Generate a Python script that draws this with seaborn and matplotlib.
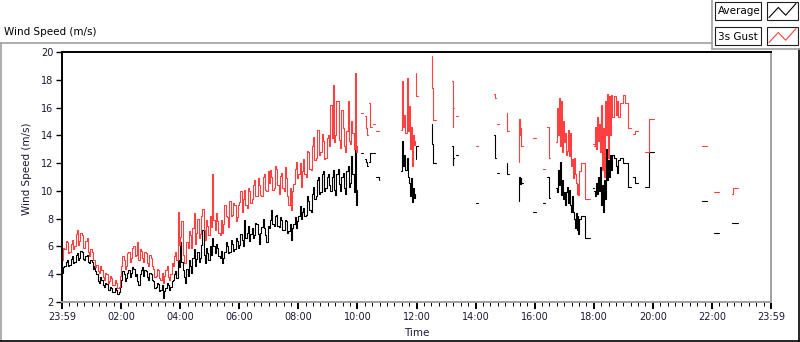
import numpy as np
import pandas as pd
import matplotlib
matplotlib.use("Agg")
import matplotlib.pyplot as plt
import seaborn as sns
from matplotlib.patches import Rectangle

# DATA
# continuous record, one value every 2.5 minutes from 00:00 to 10:00
cont_avg = [
    4.1, 4.5, 4.6, 4.9, 5.0, 4.6, 4.7, 5.1, 5.3, 4.8, 4.9, 5.4, 5.5, 5.0, 5.2, 5.7, 5.6, 5.1, 5.0, 5.3, 5.4, 4.9, 4.8, 5.0,
    4.9, 4.4, 4.6, 4.2, 4.0, 3.5, 3.4, 3.8, 3.6, 3.2, 3.1, 3.4, 3.3, 2.9, 2.9, 3.1, 3.0, 2.7, 2.7, 3.0, 2.9, 2.6, 2.7, 3.1,
    3.6, 4.2, 4.0, 3.5, 3.7, 4.1, 4.3, 3.8, 4.1, 4.5, 4.4, 3.9, 4.0, 3.5, 3.2, 4.0, 4.3, 4.5, 3.9, 4.3, 4.2, 3.8, 3.6, 4.1,
    4.0, 3.6, 3.5, 3.0, 3.1, 3.4, 3.3, 2.8, 2.9, 3.2, 2.3, 2.8, 3.0, 3.4, 3.2, 2.9, 3.1, 3.5, 3.6, 4.0, 4.2, 3.7, 5.0, 4.5,
    6.3, 4.9, 4.3, 3.8, 3.4, 4.4, 3.9, 5.0, 4.6, 4.1, 5.2, 5.8, 4.6, 5.1, 5.6, 4.9, 5.2, 6.1, 7.2, 5.4, 4.8, 5.9, 5.5, 5.0,
    6.0, 5.4, 6.6, 6.0, 5.5, 6.2, 5.9, 5.3, 5.2, 5.7, 4.8, 5.2, 5.6, 6.3, 6.0, 5.5, 5.6, 6.5, 6.2, 5.7, 5.8, 6.6, 6.4, 5.9,
    6.1, 6.9, 6.5, 6.0, 7.9, 6.6, 7.0, 7.5, 6.4, 6.9, 7.3, 6.6, 6.8, 7.7, 7.6, 6.9, 6.2, 7.0, 7.4, 8.0, 7.3, 6.8, 6.3, 7.5,
    7.3, 7.9, 8.6, 7.6, 7.5, 8.2, 8.3, 7.5, 7.4, 8.1, 7.9, 7.2, 7.2, 7.9, 7.8, 7.0, 7.1, 7.6, 6.5, 7.3, 7.6, 8.1, 7.3, 7.8,
    8.2, 8.9, 8.0, 8.5, 8.8, 8.2, 8.3, 9.6, 9.3, 8.6, 8.5, 9.8, 10.3, 9.4, 9.6, 10.8, 11.0, 9.8, 9.9, 11.2, 11.4, 10.0, 10.2, 11.0,
    11.2, 10.4, 10.0, 11.0, 11.5, 10.1, 9.7, 11.2, 11.6, 10.5, 10.0, 11.0, 11.3, 10.2, 9.8, 11.4, 11.8, 10.3, 10.6, 12.5, 11.2, 9.9, 14.0, 9.0,
    10.1,
]
cont_gust = [
    5.0, 5.9, 5.8, 6.4, 6.3, 5.5, 5.6, 6.2, 6.5, 5.8, 6.0, 6.9, 7.2, 6.1, 6.4, 7.0, 6.8, 5.9, 5.9, 6.4, 6.6, 5.6, 5.3, 5.8,
    5.6, 5.0, 5.0, 4.5, 4.7, 4.2, 4.1, 4.6, 4.3, 3.8, 3.6, 4.1, 4.0, 3.4, 3.5, 3.9, 3.7, 3.2, 3.2, 3.6, 3.4, 3.0, 3.1, 3.9,
    4.6, 5.3, 5.0, 4.4, 4.6, 5.5, 5.6, 4.9, 5.2, 5.9, 6.0, 5.3, 5.4, 6.3, 5.0, 5.8, 5.7, 5.2, 4.9, 5.6, 5.5, 4.8, 4.6, 5.4,
    5.2, 4.6, 4.4, 3.8, 3.9, 4.4, 4.3, 3.7, 3.6, 4.1, 3.4, 3.9, 4.3, 4.6, 3.8, 3.6, 4.0, 4.8, 4.6, 5.3, 5.6, 5.0, 8.5, 6.1,
    6.7, 7.8, 5.4, 4.8, 4.8, 6.3, 5.9, 7.1, 6.8, 5.9, 7.3, 8.4, 6.2, 7.0, 8.0, 6.6, 6.9, 8.2, 8.7, 7.2, 6.5, 7.9, 7.5, 6.8,
    8.2, 7.4, 11.2, 7.9, 7.2, 8.4, 7.8, 7.0, 6.8, 7.9, 7.0, 7.6, 9.0, 8.2, 8.1, 7.4, 9.3, 8.2, 8.3, 9.1, 9.0, 7.8, 8.1, 9.0,
    9.2, 10.0, 8.5, 9.4, 10.1, 9.0, 8.8, 10.2, 10.0, 9.1, 9.4, 10.4, 10.8, 9.6, 9.6, 10.9, 10.4, 9.7, 9.6, 11.0, 11.2, 10.1, 10.0, 11.4,
    10.6, 11.5, 11.0, 10.1, 10.2, 11.8, 11.6, 10.4, 9.8, 11.1, 11.3, 10.2, 10.0, 11.7, 10.9, 9.6, 9.0, 10.2, 8.6, 10.0, 10.5, 11.6, 12.1, 10.9,
    11.2, 12.0, 10.3, 11.4, 12.3, 11.2, 11.0, 12.9, 12.8, 11.6, 11.5, 13.2, 13.9, 12.2, 12.4, 14.4, 14.4, 12.6, 12.8, 14.1, 13.6, 12.3, 12.4, 13.8,
    14.0, 13.2, 16.2, 13.8, 17.6, 13.5, 14.0, 16.5, 16.5, 13.7, 13.1, 15.8, 14.5, 13.2, 12.8, 14.3, 16.5, 13.6, 13.4, 15.0, 14.2, 13.0, 18.5, 12.8,
    13.2,
]

# patchy record after 10:00, None marks a gap in logging
sparse_time = [
    "10:07", "10:12", None,
    "10:15", "10:17", "10:19", "10:22", None,
    "10:23", "10:26", "10:30", None,
    "10:31", "10:36", None,
    "10:38", "10:44", None,
    "11:28", "11:30", "11:32", "11:34", "11:36", "11:40", "11:42", "11:44",
    "11:46", "11:48", "11:50", "11:52", "11:54", "11:56", None,
    "11:58", "11:59", "12:03", None,
    "12:31", "12:32", "12:34", "12:39", None,
    "13:13", "13:14", "13:15", "13:16", None,
    "13:21", "13:25", None,
    "14:00", "14:04", None,
    "14:38", "14:40", "14:41", None,
    "14:44", "14:47", None,
    "15:03", "15:04", "15:07", None,
    "15:28", "15:29", "15:30", "15:32", "15:33", "15:36", None,
    "15:56", "16:02", None,
    "16:16", "16:20", None,
    "16:26", "16:30", "16:31", None,
    "16:43", "16:45", "16:47", "16:49", "16:51", "16:53", "16:55", "16:57",
    "16:59", "17:01", "17:03", "17:05", "17:07", "17:09", "17:11", "17:13",
    "17:15", "17:17", "17:19", "17:21", "17:23", "17:25", "17:27", "17:29",
    "17:31", "17:34", "17:42", "17:52", None,
    "17:58", "18:00", None,
    "18:01", "18:03", "18:05", "18:07", "18:09", "18:11", "18:13", "18:15",
    "18:17", "18:19", "18:21", "18:23", "18:25", "18:27", "18:29", "18:31",
    "18:33", "18:35", "18:37", "18:41", "18:45", "18:47", "18:49", "18:53",
    "18:59", "19:03", "19:09", "19:16", None,
    "19:20", "19:23", "19:30", None,
    "19:45", "19:52", "20:02", None,
    "21:40", "21:50", None,
    "22:04", "22:14", None,
    "22:41", "22:42", "22:53", None,
    "23:58", "23:59",
]
sparse_avg = [
    12.7, 12.7, None,
    12.3, 12.1, 11.8, 11.8, None,
    12.1, 12.7, 12.7, None,
    12.7, 12.7, None,
    11.0, 10.8, None,
    11.4, 13.6, 11.8, 12.6, 11.5, 12.4, 11.0, 10.6,
    9.6, 10.9, 9.2, 10.2, 9.5, 9.8, None,
    12.3, 13.2, 13.2, None,
    14.8, 13.4, 12.0, 12.0, None,
    13.2, 11.9, 12.4, 12.4, None,
    12.6, 12.6, None,
    9.1, 9.1, None,
    14.0, 12.4, 12.4, None,
    11.3, 11.3, None,
    12.0, 11.2, 11.2, None,
    9.3, 11.0, 10.5, 10.9, 10.6, 10.6, None,
    8.5, 8.5, None,
    9.1, 9.1, None,
    11.0, 9.5, 9.5, None,
    10.2, 9.9, 11.5, 10.4, 12.1, 9.7, 10.8, 9.4,
    9.9, 9.0, 9.9, 10.3, 9.1, 10.1, 9.0, 8.5,
    9.6, 8.5, 8.0, 7.3, 8.4, 7.2, 8.2, 6.9,
    8.0, 8.2, 6.6, 6.6, None,
    10.2, 10.2, None,
    10.0, 9.6, 10.6, 9.8, 11.0, 10.0, 11.7, 9.0,
    10.4, 8.5, 10.8, 9.4, 13.0, 10.8, 12.2, 11.0,
    12.6, 11.5, 12.6, 12.4, 11.8, 11.3, 12.2, 12.4,
    12.0, 12.0, 10.3, 10.3, None,
    11.0, 10.6, 10.6, None,
    10.3, 12.8, 12.8, None,
    9.25, 9.25, None,
    7.0, 7.0, None,
    7.7, 7.7, 7.7, None,
    9.4, 6.2,
]
sparse_gust = [
    15.6, 15.6, None,
    15.4, 14.5, 14.0, 14.0, None,
    16.3, 14.6, 14.6, None,
    14.8, 14.8, None,
    14.3, 14.3, None,
    14.4, 17.9, 14.6, 15.5, 14.2, 18.1, 14.3, 16.1,
    13.0, 14.6, 11.8, 14.0, 13.3, 13.6, None,
    18.5, 16.8, 16.8, None,
    19.7, 17.4, 15.1, 15.1, None,
    17.9, 14.6, 16.0, 16.0, None,
    15.4, 15.4, None,
    13.2, 13.2, None,
    17.0, 16.7, 16.7, None,
    14.8, 14.8, None,
    15.6, 14.3, 14.3, None,
    12.1, 15.2, 14.0, 14.5, 13.2, 13.2, None,
    13.8, 13.8, None,
    11.6, 11.6, None,
    14.6, 12.4, 12.4, None,
    13.5, 16.0, 14.0, 16.7, 13.2, 16.5, 12.8, 15.0,
    13.5, 14.2, 12.6, 12.9, 14.4, 12.5, 14.2, 11.8,
    12.3, 10.9, 12.4, 11.2, 10.6, 9.8, 10.5, 9.7,
    11.4, 12.0, 9.4, 9.4, None,
    13.4, 13.4, None,
    13.2, 14.6, 13.0, 15.3, 13.6, 14.8, 12.8, 16.2,
    11.5, 14.5, 11.0, 16.5, 14.0, 17.0, 12.4, 16.8,
    14.0, 16.9, 15.3, 16.8, 15.5, 16.5, 15.3, 16.3,
    16.9, 16.3, 14.55, 14.55, None,
    14.1, 14.3, 14.3, None,
    12.8, 15.2, 15.2, None,
    13.2, 13.2, None,
    9.9, 9.9, None,
    9.8, 10.2, 10.2, None,
    12.4, 11.2,
]

tick_hours = list(range(0, 25, 2))
tick_labels = ["23:59", "02:00", "04:00", "06:00", "08:00", "10:00", "12:00",
               "14:00", "16:00", "18:00", "20:00", "22:00", "23:59"]


def to_hours(t):
    h, m = t.split(":")
    return int(h) + int(m) / 60


rows = [(i * 2.5 / 60, a, g, 0) for i, (a, g) in enumerate(zip(cont_avg, cont_gust))]
seg = 1
for t, a, g in zip(sparse_time, sparse_avg, sparse_gust):
    if t is None:
        seg += 1
        continue
    rows.append((to_hours(t), a, g, seg))
df = pd.DataFrame(rows, columns=["hours", "avg", "gust", "seg"])

sns.set_theme(style="white")
plt.rcParams["font.family"] = ["DejaVu Sans"]

txt = "#1a1a33"
gray = "#a0a0a0"

fig = plt.figure(figsize=(8, 3.42), dpi=100, facecolor="white")

# panel frame + legend, drawn in pixel coordinates
ov = fig.add_axes([0, 0, 1, 1])
ov.set_xlim(0, 800)
ov.set_ylim(342, 0)
ov.axis("off")
ov.plot([0, 711.5], [42.5, 42.5], color=gray, lw=1.2)
ov.plot([0.8, 0.8], [42.5, 341], color=gray, lw=1.2)
ov.plot([799.3, 799.3], [48.5, 341], color="black", lw=1.2)
ov.plot([0, 800], [340.6, 340.6], color="black", lw=1.2)
ov.plot([711.5, 711.5], [0, 48.5], color=gray, lw=1.2)
ov.plot([711.5, 800], [48.5, 48.5], color=gray, lw=1.2)
ov.text(4, 32, "Wind Speed (m/s)", fontsize=7.5, color="black", va="center", ha="left")

for y0, name, col in [(2, "Average", "black"), (27, "3s Gust", "#ff4040")]:
    ov.add_patch(Rectangle((715, y0), 46, 18, fill=False, ec="#202020", lw=0.8))
    ov.add_patch(Rectangle((766.5, y0), 31, 18, fill=False, ec="#202020", lw=0.8))
    ov.text(717.5, y0 + 9.5, name, fontsize=7.5, color="black", va="center", ha="left")
    ov.plot([769, 778.3, 785.7, 796], [y0 + 15.5, y0 + 5.5, y0 + 13.2, y0 + 1.5],
            color=col, lw=0.8)

ax = fig.add_axes([62 / 800, 1 - 302 / 342, 709 / 800, 250 / 342])
ax.set_facecolor("white")
sns.lineplot(data=df, x="hours", y="avg", units="seg", estimator=None,
             drawstyle="steps-post", color="black", lw=0.8, ax=ax)
sns.lineplot(data=df, x="hours", y="gust", units="seg", estimator=None,
             drawstyle="steps-post", color="#ff4040", lw=0.8, ax=ax)

ax.set_xlim(0, 24)
ax.set_ylim(2, 20)
ax.set_yticks(range(2, 21, 2))
ax.set_xticks(tick_hours)
ax.set_xticklabels(tick_labels)
ax.set_xticks(np.arange(0, 24.01, 0.25), minor=True)
ax.tick_params(axis="x", which="major", bottom=True, length=5, width=1.4,
               direction="out", color="black", labelsize=7, labelcolor=txt, pad=2.5)
ax.tick_params(axis="x", which="minor", bottom=True, length=3, width=0.7,
               direction="out", color="black")
ax.tick_params(axis="y", which="major", left=True, length=4, width=1,
               direction="out", color="black", labelsize=7, labelcolor=txt, pad=2)

ax.set_xlabel("Time", fontsize=7.5, color=txt)
ax.set_ylabel("Wind Speed (m/s)", fontsize=7.5, color=txt)
ax.xaxis.set_label_coords(0.5, -0.104)
ax.yaxis.set_label_coords(-0.043, 0.532)

for side, col in [("top", "black"), ("left", "black"), ("right", gray), ("bottom", gray)]:
    ax.spines[side].set_visible(True)
    ax.spines[side].set_color(col)
    ax.spines[side].set_linewidth(1.4)

fig.savefig("out.png", dpi=100, facecolor="white")
